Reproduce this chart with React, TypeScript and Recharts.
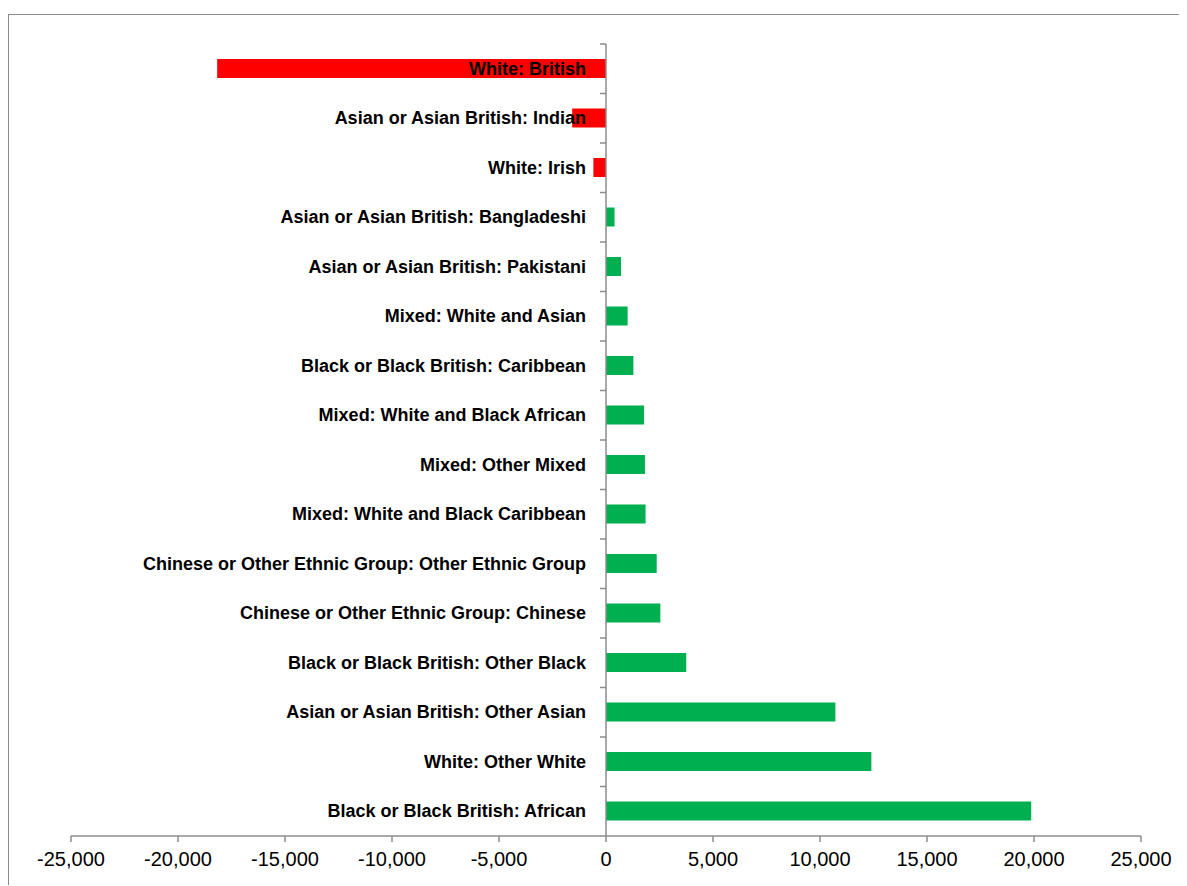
import { Bar, BarChart, Cell, ReferenceLine, XAxis, YAxis } from 'recharts';

const groups = [
  'White: British',
  'Asian or Asian British: Indian',
  'White: Irish',
  'Asian or Asian British: Bangladeshi',
  'Asian or Asian British: Pakistani',
  'Mixed: White and Asian',
  'Black or Black British: Caribbean',
  'Mixed: White and Black African',
  'Mixed: Other Mixed',
  'Mixed: White and Black Caribbean',
  'Chinese or Other Ethnic Group: Other Ethnic Group',
  'Chinese or Other Ethnic Group: Chinese',
  'Black or Black British: Other Black',
  'Asian or Asian British: Other Asian',
  'White: Other White',
  'Black or Black British: African',
];

const change = [
  -18170, -1580, -590, 400, 700, 1010, 1280, 1780, 1820, 1850, 2370, 2540,
  3750, 10720, 12400, 19870,
];

const xTicks = [-25000, -20000, -15000, -10000, -5000, 0, 5000, 10000, 15000, 20000, 25000];

const data = groups.map((name, i) => ({ name, value: change[i] }));

const W = 1176;
const H = 870;
const Y_AXIS_W = 2;
const margin = { top: 29, right: 44, bottom: 9, left: 60 };
const X_AXIS_H = 40;
const domain: [number, number] = [-25000, 25000];
const plotLeft = margin.left + Y_AXIS_W;
const plotW = W - plotLeft - margin.right;
const plotH = H - margin.top - margin.bottom - X_AXIS_H;
const zeroX = plotLeft + ((0 - domain[0]) / (domain[1] - domain[0])) * plotW;
const axisGrey = '#8c8c8c';

function GroupTick(props: any) {
  const { y, payload } = props;
  const half = payload?.offset || plotH / groups.length / 2;
  return (
    <g>
      <line x1={zeroX - 6} x2={zeroX} y1={y - half} y2={y - half} stroke={axisGrey} strokeWidth={1.5} />
      <text
        x={zeroX - 20}
        y={y}
        textAnchor="end"
        dominantBaseline="central"
        fontFamily="'Liberation Sans', Arial, sans-serif"
        fontWeight="bold"
        fontSize={18}
        fill="#000"
      >
        {payload.value}
      </text>
    </g>
  );
}

export default function App() {
  return (
    <div style={{ paddingTop: 6 }}>
      <div
        style={{
          width: 1178,
          height: 871,
          borderTop: `1px solid ${axisGrey}`,
          borderLeft: `1px solid ${axisGrey}`,
          boxSizing: 'border-box',
          overflow: 'hidden',
        }}
      >
        <BarChart width={W} height={H} data={data} layout="vertical" margin={margin} barSize={19}>
          <XAxis
            type="number"
            domain={domain}
            ticks={xTicks}
            interval={0}
            height={X_AXIS_H}
            stroke={axisGrey}
            strokeWidth={1.5}
            tickSize={6}
            tickMargin={10}
            tickFormatter={(v: number) => v.toLocaleString('en-US')}
            tick={{ fill: '#000', fontSize: 20, fontFamily: "'Liberation Sans Narrow', 'Liberation Sans', Arial, sans-serif" }}
          />
          <Bar dataKey="value" isAnimationActive={false}>
            {data.map((d) => (
              <Cell key={d.name} fill={d.value < 0 ? '#ff0000' : '#00b050'} />
            ))}
          </Bar>
          <ReferenceLine x={0} stroke={axisGrey} strokeWidth={1.5} />
          <YAxis
            type="category"
            dataKey="name"
            width={Y_AXIS_W}
            interval={0}
            axisLine={false}
            tickLine={false}
            tick={GroupTick}
          />
        </BarChart>
      </div>
    </div>
  );
}
